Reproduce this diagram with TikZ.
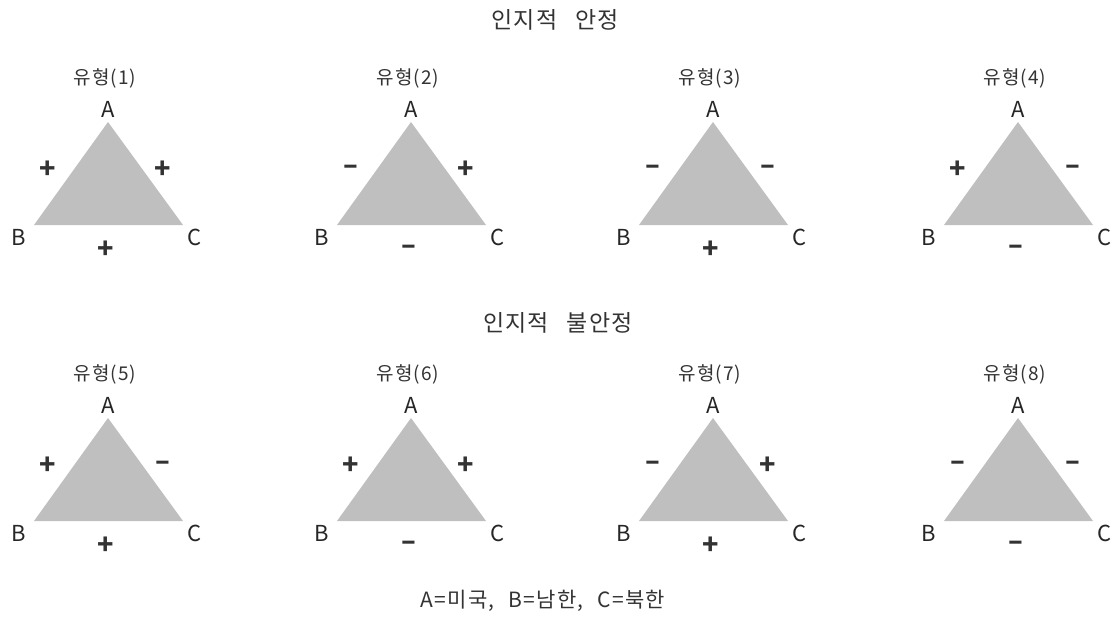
\documentclass[tikz,border=0pt]{standalone}
\usepackage{fontspec}
\usetikzlibrary{calc}
\setmainfont{Noto Sans CJK KR}
\begin{document}
\begin{tikzpicture}[x=1pt,y=-1pt,
  lbl/.style={text=black!80,font=\fontsize{19}{19}\selectfont\addfontfeature{LetterSpace=5},inner sep=0pt},
  vtx/.style={text=black!85,font=\fontsize{22}{22}\selectfont,inner sep=0pt},
  sgn/.style={text=black!80,font=\fontsize{27}{27}\selectfont\bfseries,inner sep=0pt},
  ttl/.style={text=black!80,font=\fontsize{23}{23}\selectfont\addfontfeature{LetterSpace=5},inner sep=0pt},
  legendtext/.style={text=black!80,font=\fontsize{21}{21}\selectfont\addfontfeature{LetterSpace=6},inner sep=0pt},
  tri/.style={fill=black!25}]
\useasboundingbox (0,0) rectangle (1114,624);
% #1 id, #2 apex x, #3 apex y, #4 type label, #5 left sign, #6 right sign, #7 bottom sign
\newcommand\balancetri[7]{%
  \coordinate (A#1) at (#2,#3);
  \coordinate (B#1) at ($(#2,#3)+(-74,103)$);
  \coordinate (C#1) at ($(#2,#3)+(75,103)$);
  \fill[tri] (A#1) -- (B#1) -- (C#1) -- cycle;
  \node[lbl] (t#1) at ($(A#1)+(-3,-44)$) {#4};
  \node[vtx] (la#1) at ($(A#1)+(0,-13)$) {A};
  \node[vtx] (lb#1) at ($(B#1)+(-15,12)$) {B};
  \node[vtx] (lc#1) at ($(C#1)+(12,12)$) {C};
  \node[sgn] (sl#1) at ($(A#1)+(-60,48)$) {#5};
  \node[sgn] (sr#1) at ($(A#1)+(55,48)$) {#6};
  \node[sgn] (sb#1) at ($(A#1)+(-2,128)$) {#7};
}
\node[ttl] (title1) at (555,20) {인지적\hspace{18pt}안정};
\node[ttl] (title2) at (558,323) {인지적\hspace{18pt}불안정};
\balancetri{1}{108}{122}{유형(1)}{+}{+}{+}
\balancetri{2}{411}{122}{유형(2)}{–}{+}{–}
\balancetri{3}{713}{122}{유형(3)}{–}{–}{+}
\balancetri{4}{1018}{122}{유형(4)}{+}{–}{–}
\balancetri{5}{108}{418}{유형(5)}{+}{–}{+}
\balancetri{6}{411}{418}{유형(6)}{+}{+}{–}
\balancetri{7}{713}{418}{유형(7)}{–}{+}{+}
\balancetri{8}{1018}{418}{유형(8)}{–}{–}{–}
\node[legendtext] (legend) at (543,601) {A=미국,\hspace{14pt}B=남한,\hspace{14pt}C=북한};
\end{tikzpicture}
\end{document}
